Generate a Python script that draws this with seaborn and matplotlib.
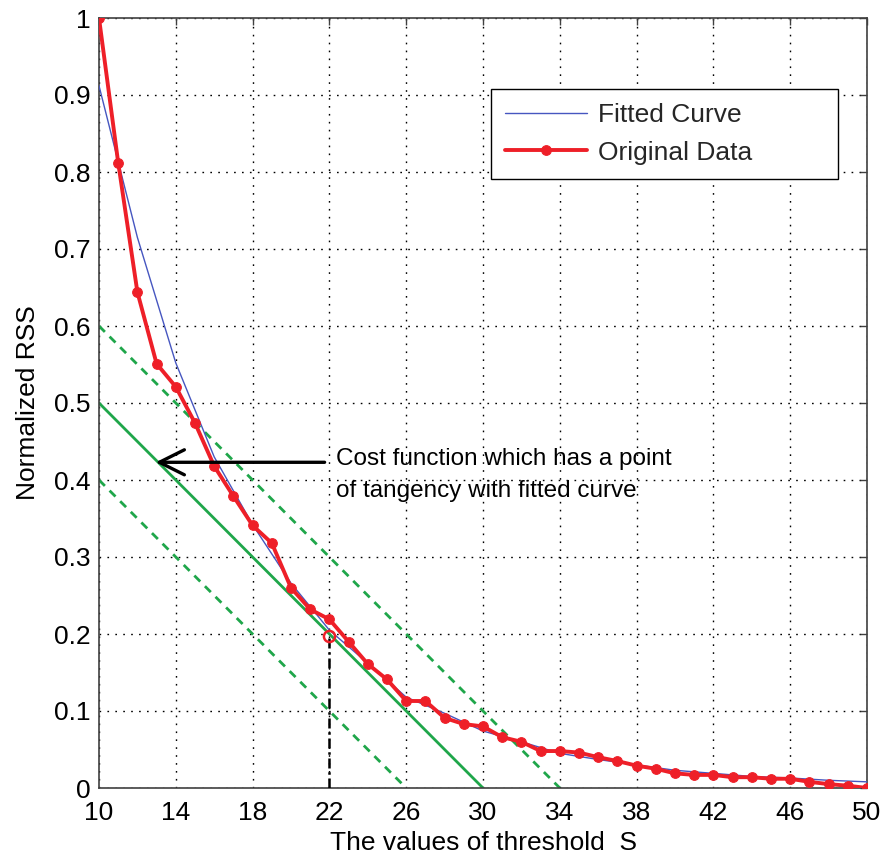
import numpy as np
import pandas as pd
import matplotlib
matplotlib.use("Agg")
import matplotlib.pyplot as plt
import seaborn as sns

# Normalized residual sum of squares for each threshold S
thresholds = list(range(10, 51))
rss_original = [1.0, 0.812, 0.644, 0.551, 0.521, 0.474, 0.418, 0.379, 0.341, 0.318,
                0.260, 0.232, 0.219, 0.190, 0.161, 0.141, 0.113, 0.113, 0.091, 0.083,
                0.080, 0.066, 0.060, 0.048, 0.048, 0.046, 0.040, 0.035, 0.029, 0.025,
                0.019, 0.017, 0.017, 0.014, 0.014, 0.012, 0.012, 0.008, 0.005, 0.003,
                0.0]

# Fitted curve sampled at even thresholds
fit_x = list(range(10, 51, 2))
fit_y = [0.912, 0.715, 0.552, 0.430, 0.342, 0.266, 0.205, 0.162, 0.118, 0.097,
         0.074, 0.060, 0.045, 0.037, 0.030, 0.023, 0.019, 0.015, 0.013, 0.010, 0.008]

# Cost-function lines (start/end points), the middle one is tangent at S = 22
cost_lines_x = [[10, 34], [10, 30], [10, 26]]
cost_lines_y = [[0.6, 0.0], [0.5, 0.0], [0.4, 0.0]]
cost_styles = ["dashed", "solid", "dashed"]
tangent_x = 22
tangent_y = 0.197

x_ticks = list(range(10, 51, 4))
y_ticks = [0, 0.1, 0.2, 0.3, 0.4, 0.5, 0.6, 0.7, 0.8, 0.9, 1.0]
y_tick_labels = ["0", "0.1", "0.2", "0.3", "0.4", "0.5", "0.6", "0.7", "0.8", "0.9", "1"]

sns.set_theme(style="white")
plt.rcParams["font.family"] = ["Liberation Sans", "DejaVu Sans"]

RED = "#ee1f28"
BLUE = "#4656c0"
GREEN = "#1fa64a"

fig = plt.figure(figsize=(8.84, 8.61), dpi=100)
ax = fig.add_axes([99 / 884, 73 / 861, 768 / 884, 770 / 861])

# cost-function lines
for xs, ys, st in zip(cost_lines_x, cost_lines_y, cost_styles):
    if st == "dashed":
        ax.plot(xs, ys, color=GREEN, lw=2.0, linestyle=(0, (3.0, 2.4)), zorder=2)
    else:
        ax.plot(xs, ys, color=GREEN, lw=2.0, zorder=2)

fit_df = pd.DataFrame({"S": fit_x, "RSS": fit_y})
orig_df = pd.DataFrame({"S": thresholds, "RSS": rss_original})

sns.lineplot(data=fit_df, x="S", y="RSS", ax=ax, color=BLUE, lw=1.0,
             label="Fitted Curve", zorder=3)
sns.lineplot(data=orig_df, x="S", y="RSS", ax=ax, color=RED, lw=2.8,
             marker="o", markersize=7, markeredgecolor=RED, markerfacecolor=RED,
             label="Original Data", zorder=4)

# tangent point and its projection onto the S axis
ax.plot([tangent_x, tangent_x], [0, tangent_y], color="black", lw=1.8,
        linestyle=(0, (4, 1.5, 1, 1.5)), zorder=3)
ax.plot([tangent_x], [tangent_y], marker="o", markersize=8, markerfacecolor="none",
        markeredgecolor=RED, markeredgewidth=1.8, zorder=5)

# arrow with explanation
ax.annotate("", xy=(12.95, 0.423), xytext=(21.75, 0.423),
            arrowprops=dict(arrowstyle="->,head_length=0.9,head_width=0.45",
                            lw=2.4, color="black", mutation_scale=20,
                            shrinkA=0, shrinkB=0), zorder=6)
ax.text(22.35, 0.407, "Cost function which has a point\nof tangency with fitted curve",
        ha="left", va="center", fontsize=17.5, linespacing=1.6, color="black", zorder=6)

ax.set_xlim(10, 50)
ax.set_ylim(0, 1)
ax.set_xticks(x_ticks)
ax.set_yticks(y_ticks)
ax.set_yticklabels(y_tick_labels)

ax.grid(True, color="black", linestyle=(0, (1.2, 4.5)), lw=1.0)
ax.set_axisbelow(True)

for sp in ax.spines.values():
    sp.set_color("#404040")
    sp.set_linewidth(1.2)
    sp.set_visible(True)

ax.tick_params(axis="both", which="both", direction="in", length=5, width=1.0,
               color="#404040", top=True, right=True, labelsize=19,
               labelcolor="black")
ax.tick_params(axis="x", pad=9)
ax.tick_params(axis="y", pad=6)

ax.set_xlabel("The values of threshold  S", fontsize=19, labelpad=5, color="black")
ax.set_ylabel("Normalized RSS", fontsize=19, labelpad=10, color="black")

leg = ax.legend(loc="upper left", bbox_to_anchor=(0.510, 0.796, 0.452, 0.112),
                mode="expand", borderaxespad=0,
                fontsize=19, frameon=True, fancybox=False, handlelength=3.1,
                handletextpad=0.4, borderpad=0.55, labelspacing=0.5)
leg.get_frame().set_edgecolor("black")
leg.get_frame().set_linewidth(1.0)
leg.get_frame().set_alpha(1.0)

fig.savefig("out.png", dpi=100, facecolor="white")
